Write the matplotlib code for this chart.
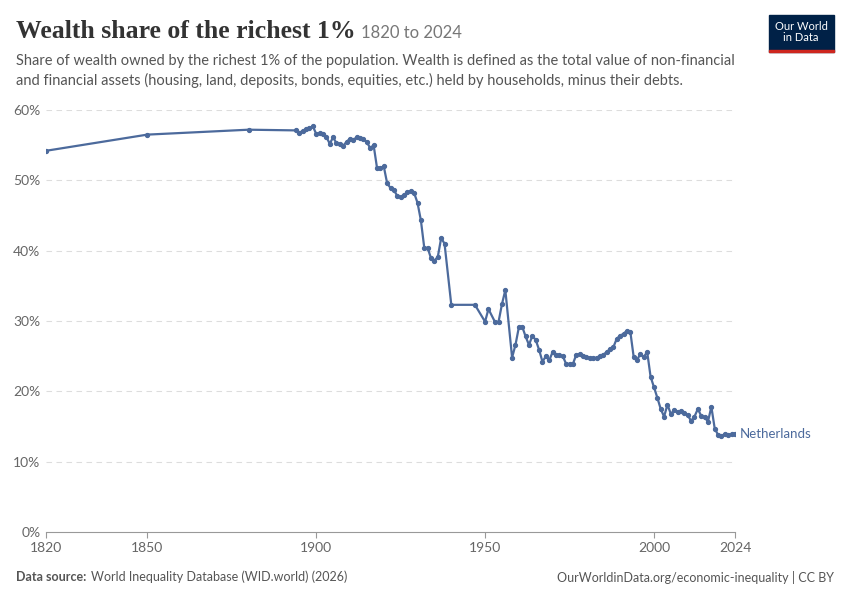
import matplotlib
matplotlib.use("Agg")
import matplotlib.pyplot as plt
from matplotlib.patches import Rectangle

plt.rcParams['font.family'] = ['Lato', 'DejaVu Sans']

years = [1820, 1850, 1880, 1894, 1895, 1896, 1897, 1898, 1899, 1900, 1901, 1902, 1903, 1904, 1905,
         1906, 1907, 1908, 1909, 1910, 1911, 1912, 1913, 1914, 1915, 1916, 1917, 1918, 1919, 1920,
         1921, 1922, 1923, 1924, 1925, 1926, 1927, 1928, 1929, 1930, 1931, 1932, 1933, 1934, 1935,
         1936, 1937, 1938, 1940, 1947, 1950, 1951, 1953, 1954, 1955, 1956, 1958, 1959, 1960, 1961,
         1962, 1963, 1964, 1965, 1966, 1967, 1968, 1969, 1970, 1971, 1972, 1973, 1974, 1975, 1976,
         1977, 1978, 1979, 1980, 1981, 1982, 1983, 1984, 1985, 1986, 1987, 1988, 1989, 1990, 1991,
         1992, 1993, 1994, 1995, 1996, 1997, 1998, 1999, 2000, 2001, 2002, 2003, 2004, 2005, 2006,
         2007, 2008, 2009, 2010, 2011, 2012, 2013, 2014, 2015, 2016, 2017, 2018, 2019, 2020, 2021,
         2022, 2023, 2024]
share = [54.2, 56.5, 57.2, 57.1, 56.8, 57.0, 57.3, 57.4, 57.7, 56.6, 56.7, 56.6, 56.2, 55.2, 56.1,
         55.3, 55.2, 54.9, 55.5, 55.9, 55.8, 56.1, 56.0, 55.9, 55.4, 54.6, 55.0, 51.8, 51.7, 52.0,
         49.6, 48.9, 48.6, 47.8, 47.6, 47.9, 48.3, 48.5, 48.2, 46.8, 44.3, 40.4, 40.4, 38.9, 38.6,
         39.1, 41.8, 41.0, 32.3, 32.3, 29.9, 31.7, 29.8, 29.9, 32.4, 34.4, 24.8, 26.6, 29.1, 29.2,
         27.8, 26.6, 27.9, 27.3, 25.9, 24.2, 25.0, 24.4, 25.6, 25.2, 25.1, 25.0, 23.9, 23.9, 23.9,
         25.2, 25.3, 25.0, 24.9, 24.8, 24.7, 24.8, 25.0, 25.2, 25.6, 26.0, 26.3, 27.5, 27.9, 28.2,
         28.6, 28.5, 24.9, 24.5, 25.3, 24.9, 25.6, 22.1, 20.6, 19.1, 17.5, 16.4, 18.1, 16.8, 17.3,
         17.1, 17.2, 16.9, 16.6, 15.8, 16.4, 17.5, 16.5, 16.3, 15.7, 17.8, 14.7, 13.8, 13.7, 13.9,
         13.8, 13.9, 14.0]
xticks = [1820, 1850, 1900, 1950, 2000, 2024]
yticks = [0, 10, 20, 30, 40, 50, 60]

color = "#4C6A9C"
fig = plt.figure(figsize=(8.5, 6), dpi=100)
ax = fig.add_axes([46/850, 1-532/600, (735-46)/850, (532-110)/600])
ax.plot(years, share, color=color, lw=1.6, marker="o", ms=2.8)
ax.set_xlim(1820, 2024)
ax.set_ylim(0, 60)
ax.set_yticks(yticks)
ax.set_yticklabels([f"{v}%" for v in yticks], color="#666666", fontsize=10)
ax.set_xticks(xticks)
ax.set_xticklabels([str(v) for v in xticks], color="#666666", fontsize=10)
for v in yticks[1:]:
    ax.axhline(v, color="#dddddd", lw=0.8, ls=(0, (5, 4)), zorder=0)
for s in ["top", "right", "left"]:
    ax.spines[s].set_visible(False)
ax.spines["bottom"].set_color("#999999")
ax.tick_params(axis="y", length=0, pad=4)
ax.tick_params(axis="x", length=4, color="#999999")
ax.text(2025.5, share[-1], "Netherlands", color=color, fontsize=9.5, va="center", clip_on=False)

fig.text(16/850, 1-32/600, "Wealth share of the richest 1%", fontsize=18.5, family="Liberation Serif",
         weight="bold", color="#333333", va="center")
fig.text(361/850, 1-33/600, "1820 to 2024", fontsize=12, color="#777777", va="center")
fig.text(16/850, 1-61/600, "Share of wealth owned by the richest 1% of the population. Wealth is defined as the total value of non-financial",
         fontsize=10.5, color="#555555", va="center")
fig.text(16/850, 1-80/600, "and financial assets (housing, land, deposits, bonds, equities, etc.) held by households, minus their debts.",
         fontsize=10.5, color="#555555", va="center")
fig.text(16/850, 1-577/600, "Data source:", fontsize=9, color="#555555", weight="bold", va="center")
fig.text(91/850, 1-577/600, "World Inequality Database (WID.world) (2026)", fontsize=9, color="#555555", va="center")
fig.text(834/850, 1-577/600, "OurWorldinData.org/economic-inequality | CC BY", fontsize=9, color="#555555",
         va="center", ha="right")
fig.patches.append(Rectangle((769/850, 1-52/600), 65/850, 37/600, transform=fig.transFigure,
                             color="#002147"))
fig.patches.append(Rectangle((769/850, 1-52/600), 65/850, 2.5/600, transform=fig.transFigure,
                             color="#CE261E"))
fig.text(801/850, 1-32/600, "Our World\nin Data", color="white", fontsize=8, ha="center",
         va="center", linespacing=1.1)
fig.savefig("out.png", dpi=100)
